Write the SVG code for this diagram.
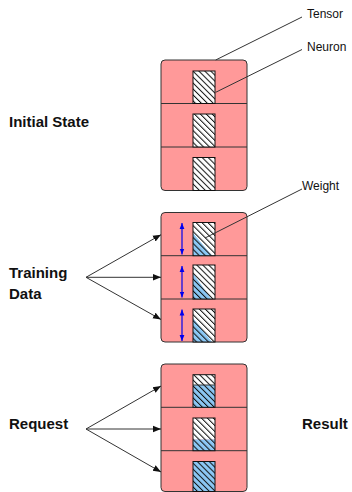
<svg xmlns="http://www.w3.org/2000/svg" width="352" height="492" viewBox="0 0 352 492">
<style>
.box{fill:#ff9999;stroke:#333;stroke-width:1}
.div{stroke:#333;stroke-width:1}
.neu{fill:none;stroke:#111;stroke-width:1}
.wht{fill:#fff}
.blu{fill:#8cc8f5}
.hat{fill:url(#hatch)}
.lbl{font-family:"Liberation Sans",Arial,sans-serif;font-size:12px;fill:#111}
.bold{font-family:"Liberation Sans",Arial,sans-serif;font-size:15px;font-weight:bold;fill:#111}
.call{stroke:#333;stroke-width:1;fill:none}
.arr{stroke:#333;stroke-width:1;fill:none;marker-end:url(#ah)}
.barr{stroke:#0000ee;stroke-width:1.2;fill:none;marker-start:url(#bh);marker-end:url(#bh)}
</style>
<defs>
<pattern id="hatch" patternUnits="userSpaceOnUse" width="4.2" height="4.2" patternTransform="rotate(45)">
<line x1="0" y1="2" x2="4.2" y2="2" stroke="#111" stroke-width="1"/>
</pattern>
<marker id="ah" viewBox="0 0 10 10" refX="10" refY="5" markerWidth="8" markerHeight="8" markerUnits="userSpaceOnUse" orient="auto">
<path d="M0,1 L10,5 L0,9 Z" fill="#111"/>
</marker>
<marker id="bh" viewBox="0 0 10 10" refX="10" refY="5" markerWidth="6" markerHeight="6" markerUnits="userSpaceOnUse" orient="auto-start-reverse">
<path d="M0,1 L10,5 L0,9 Z" fill="#0000ee"/>
</marker>
</defs>

<g id="tensor-initial">
<rect class="box" x="161" y="60" width="86" height="130.5" rx="4"/>
<line class="div" x1="161" y1="103.5" x2="247" y2="103.5"/>
<line class="div" x1="161" y1="147" x2="247" y2="147"/>
<rect class="wht" x="193" y="71" width="22" height="32.5"/><rect class="hat" x="193" y="71" width="22" height="32.5"/><rect class="neu" x="193" y="71" width="22" height="32.5"/>
<rect class="wht" x="193" y="114" width="22" height="33"/><rect class="hat" x="193" y="114" width="22" height="33"/><rect class="neu" x="193" y="114" width="22" height="33"/>
<rect class="wht" x="193" y="157.5" width="22" height="33"/><rect class="hat" x="193" y="157.5" width="22" height="33"/><rect class="neu" x="193" y="157.5" width="22" height="33"/>
</g>

<g id="tensor-training">
<rect class="box" x="161" y="212.5" width="86" height="129.5" rx="4"/>
<line class="div" x1="161" y1="255.7" x2="247" y2="255.7"/>
<line class="div" x1="161" y1="299" x2="247" y2="299"/>
<rect class="wht" x="193" y="222.5" width="22" height="33.2"/>
<polygon class="blu" points="193,233 193,255.7 212,255.7"/>
<rect class="hat" x="193" y="222.5" width="22" height="33.2"/><rect class="neu" x="193" y="222.5" width="22" height="33.2"/>
<rect class="wht" x="193" y="265" width="22" height="34"/>
<polygon class="blu" points="193,273 193,299 211,299"/>
<rect class="hat" x="193" y="265" width="22" height="34"/><rect class="neu" x="193" y="265" width="22" height="34"/>
<rect class="wht" x="193" y="309" width="22" height="33"/>
<polygon class="blu" points="193,318 193,342 212,342"/>
<rect class="hat" x="193" y="309" width="22" height="33"/><rect class="neu" x="193" y="309" width="22" height="33"/>
<line class="barr" x1="182" y1="223" x2="182" y2="254.5"/>
<line class="barr" x1="182" y1="266" x2="182" y2="297.5"/>
<line class="barr" x1="182" y1="309.5" x2="182" y2="341"/>
</g>

<g id="tensor-result">
<rect class="box" x="161" y="364" width="86" height="127.5" rx="4"/>
<line class="div" x1="161" y1="407.3" x2="247" y2="407.3"/>
<line class="div" x1="161" y1="450.7" x2="247" y2="450.7"/>
<rect class="wht" x="193" y="374.7" width="22" height="10.3"/>
<rect class="blu" x="193" y="385" width="22" height="22.3"/>
<rect class="hat" x="193" y="374.7" width="22" height="32.6"/><rect class="neu" x="193" y="374.7" width="22" height="32.6"/>
<line class="div" x1="193" y1="385" x2="215" y2="385"/>
<rect class="wht" x="193" y="418" width="22" height="21.5"/>
<rect class="blu" x="193" y="439.5" width="22" height="11.2"/>
<rect class="hat" x="193" y="418" width="22" height="32.7"/><rect class="neu" x="193" y="418" width="22" height="32.7"/>
<rect class="blu" x="193" y="461.5" width="22" height="30"/>
<rect class="hat" x="193" y="461.5" width="22" height="30"/><rect class="neu" x="193" y="461.5" width="22" height="30"/>
</g>

<g id="labels">
<text class="lbl" x="307" y="18">Tensor</text>
<text class="lbl" x="307" y="51">Neuron</text>
<text class="lbl" x="302" y="190">Weight</text>
<text class="bold" x="9" y="127">Initial State</text>
<text class="bold" x="9" y="278">Training</text>
<text class="bold" x="9" y="298.5">Data</text>
<text class="bold" x="9" y="429">Request</text>
<text class="bold" x="302" y="429">Result</text>
</g>

<g id="connectors">
<line class="call" x1="215.7" y1="60" x2="302" y2="17"/>
<line class="call" x1="215.7" y1="92.3" x2="302" y2="49.5"/>
<line class="call" x1="205" y1="238" x2="302" y2="189"/>
<line class="arr" x1="86" y1="277.3" x2="161" y2="234.7"/>
<line class="arr" x1="86" y1="277.3" x2="161" y2="277.3"/>
<line class="arr" x1="86" y1="277.3" x2="161" y2="319.5"/>
<line class="arr" x1="86" y1="429" x2="161" y2="386"/>
<line class="arr" x1="86" y1="429" x2="161" y2="429"/>
<line class="arr" x1="86" y1="429" x2="161" y2="472"/>
</g>
</svg>
